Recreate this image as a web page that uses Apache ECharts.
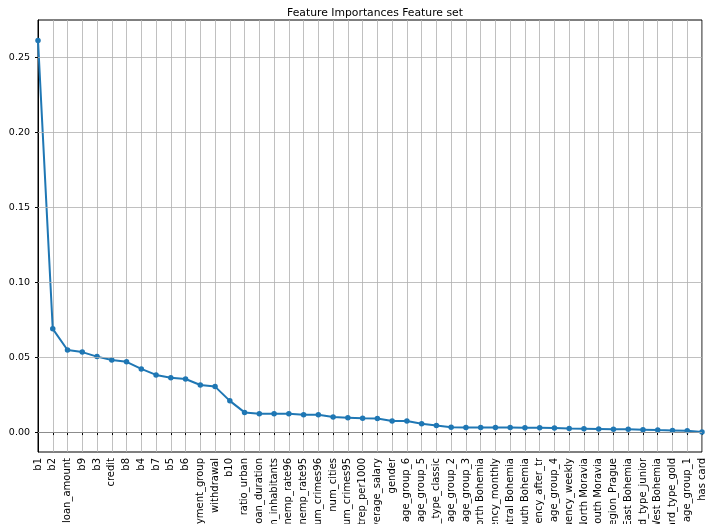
<!DOCTYPE html>
<html>
<head>
<meta charset="utf-8">
<script src="https://cdn.jsdelivr.net/npm/echarts@6/dist/echarts.min.js"></script>
<style>
  html, body { margin: 0; padding: 0; background: #fff; }
  #chart { width: 706px; height: 524px; }
</style>
</head>
<body>
<div id="chart"></div>
<script>
// Feature names, ordered by importance
const features = [
  "b1", "b2", "loan_amount", "b9", "b3", "credit", "b8", "b4", "b7", "b5", "b6",
  "payment_group", "withdrawal", "b10", "ratio_urban", "loan_duration",
  "num_inhabitants", "unemp_rate96", "unemp_rate95", "num_crimes96", "num_cities",
  "num_crimes95", "entrep_per1000", "average_salary", "gender", "age_group_6",
  "age_group_5", "card_type_classic", "age_group_2", "age_group_3", "North Bohemia",
  "frequency_monthly", "Central Bohemia", "South Bohemia", "frequency_after_tr",
  "age_group_4", "frequency_weekly", "North Moravia", "South Moravia",
  "region_Prague", "East Bohemia", "card_type_junior", "West Bohemia",
  "card_type_gold", "age_group_1", "has card"
];

// Importance score for each feature
const importances = [
  0.2611, 0.0688, 0.0547, 0.0533, 0.0503, 0.0480, 0.0468, 0.0421, 0.0381, 0.0362,
  0.0354, 0.0314, 0.0303, 0.0208, 0.0131, 0.0122, 0.0122, 0.0122, 0.0116, 0.0116,
  0.0100, 0.0096, 0.0092, 0.0091, 0.0074, 0.0073, 0.0056, 0.0043, 0.0032, 0.0031,
  0.0031, 0.0030, 0.0030, 0.0028, 0.0028, 0.0027, 0.0024, 0.0022, 0.0020, 0.0018,
  0.0018, 0.0016, 0.0013, 0.0011, 0.0009, 0.0001
];

// Y tick values
const yTicks = [0.00, 0.05, 0.10, 0.15, 0.20, 0.25];

const yMin = -0.0133, yMax = 0.2747;
const gridColor = "#b0b0b0";
const font = "DejaVu Sans";

const chart = echarts.init(document.getElementById("chart"), null, { renderer: "canvas" });

chart.setOption({
  animation: false,
  backgroundColor: "#ffffff",
  title: {
    text: "Feature Importances Feature set",
    left: 370,
    top: 3,
    textAlign: "center",
    textStyle: { fontFamily: font, fontSize: 10.8, fontWeight: "normal", color: "#000" }
  },
  grid: {
    left: 38, right: 4, top: 20, bottom: 72,
    containLabel: false,
    outerBoundsMode: "none",
    show: true, borderColor: "#000", borderWidth: 1, backgroundColor: "transparent"
  },
  xAxis: {
    type: "category",
    data: features,
    boundaryGap: false,
    axisLine: { show: true, lineStyle: { color: "#000", width: 1 } },
    axisTick: { show: true, interval: 0, length: 3, lineStyle: { color: "#000" } },
    axisLabel: {
      interval: 0, rotate: 90, margin: 6,
      fontFamily: font, fontSize: 10, color: "#000"
    },
    splitLine: { show: true, interval: 0, lineStyle: { color: gridColor, width: 0.8 } }
  },
  yAxis: {
    type: "value",
    min: yMin,
    max: yMax,
    axisLine: { show: true, lineStyle: { color: "#000", width: 1 } },
    axisTick: { show: true, length: 3, customValues: yTicks, lineStyle: { color: "#000" } },
    axisLabel: {
      customValues: yTicks, margin: 8,
      fontFamily: font, fontSize: 9.5, color: "#000",
      formatter: v => v.toFixed(2)
    },
    splitLine: { show: false }
  },
  series: [
    {
      // horizontal grid lines at the y ticks
      type: "line",
      data: [],
      silent: true,
      z: 1,
      markLine: {
        silent: true,
        symbol: "none",
        label: { show: false },
        lineStyle: { color: gridColor, width: 0.8, type: "solid" },
        data: yTicks.map(v => ({ yAxis: v }))
      }
    },
    {
      type: "line",
      data: importances,
      z: 3,
      symbol: "circle",
      symbolSize: 5.5,
      lineStyle: { color: "#1f77b4", width: 2 },
      itemStyle: { color: "#1f77b4" }
    }
  ]
});
</script>
</body>
</html>
